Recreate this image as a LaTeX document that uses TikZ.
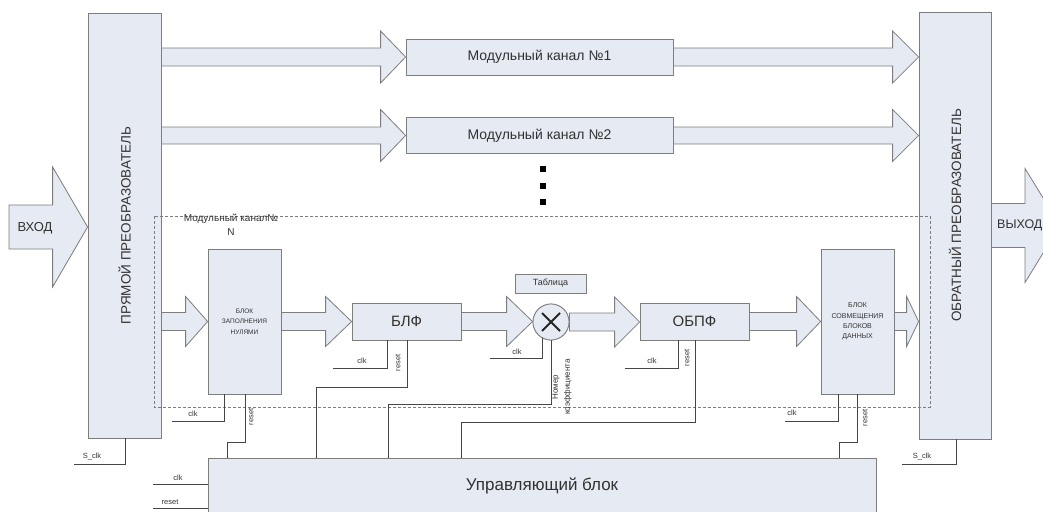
\documentclass[tikz,border=0pt]{standalone}
\usepackage{fontspec}
\setmainfont{Liberation Sans}
\usetikzlibrary{calc}
\definecolor{boxfill}{RGB}{230,234,243}
\definecolor{boxline}{RGB}{125,125,125}
\definecolor{wirec}{RGB}{70,70,70}
\definecolor{txt}{RGB}{50,50,50}
% from, to, head length, body half height, head half height
\newcommand\fatarrow[5]{%
  \draw[fat] let \p1=(#1), \p2=(#2) in
   (\x1,\y1+#4pt) -- (\x2-#3pt,\y1+#4pt) -- (\x2-#3pt,\y1+#5pt) -- (\x2,\y1)
   -- (\x2-#3pt,\y1-#5pt) -- (\x2-#3pt,\y1-#4pt) -- (\x1,\y1-#4pt) -- cycle;}
\begin{document}
\begin{tikzpicture}[x=1pt,y=-1pt,
  blk/.style={draw=boxline,fill=boxfill,line width=0.8pt,inner sep=0pt,text=txt,align=center},
  fat/.style={draw=boxline,fill=boxfill,line width=0.8pt,line join=miter},
  wirel/.style={draw=wirec,line width=0.6pt},
  dashbox/.style={draw=boxline,line width=0.7pt,dash pattern=on 3pt off 2pt},
  lbl/.style={text=txt,font=\fontsize{7.5}{8.5}\selectfont,inner sep=0.5pt},
  big/.style={text=txt,font=\fontsize{13.5}{16}\selectfont}]
\useasboundingbox (0,0) rectangle (1043,511);
\clip (0,0) rectangle (1043,511);

% main blocks
\node[blk,minimum width=73pt,minimum height=425pt] (pre) at (124.5,225.5) {};
\node[blk,minimum width=72pt,minimum height=427pt] (post) at (955,225.5) {};
\node[blk,minimum width=267pt,minimum height=36pt,font=\fontsize{14}{16}\selectfont] (ch1) at (539.5,57) {Модульный канал №1};
\node[blk,minimum width=267pt,minimum height=36pt,font=\fontsize{14}{16}\selectfont] (ch2) at (539.5,135.5) {Модульный канал №2};
\node[blk,minimum width=73pt,minimum height=145pt,font=\fontsize{6.5}{10.5}\selectfont] (blk1) at (244.5,321.5) {БЛОК\\ЗАПОЛНЕНИЯ\\НУЛЯМИ};
\node[blk,minimum width=109pt,minimum height=37pt,font=\fontsize{15}{18}\selectfont] (blf) at (406.5,321.5) {БЛФ};
\node[blk,circle,minimum size=36pt] (mul) at (551,322) {};
\node[blk,minimum width=71pt,minimum height=19pt,font=\fontsize{9}{10}\selectfont] (tab) at (550.5,283.5) {Таблица};
\node[blk,minimum width=109pt,minimum height=37pt,font=\fontsize{15}{18}\selectfont] (obpf) at (694.5,321.5) {ОБПФ};
\node[blk,minimum width=73pt,minimum height=145pt,font=\fontsize{7}{10.3}\selectfont] (blk3) at (857.5,321.5) {БЛОК\\СОВМЕЩЕНИЯ\\БЛОКОВ\\ДАННЫХ};
\node[blk,minimum width=668pt,minimum height=56pt,font=\fontsize{17}{20}\selectfont] (ctrl) at (542,486) {Управляющий блок};

% fat arrows
\coordinate (inpt) at (9,227);
\coordinate (outpt) at (1060,225.5);
\fatarrow{inpt}{pre.west}{35}{22}{60}
\fatarrow{post.east}{outpt}{35}{22}{57}
\fatarrow{pre.east |- ch1.west}{ch1.west}{25}{9}{26}
\fatarrow{ch1.east}{post.west |- ch1.east}{26}{9}{26}
\fatarrow{pre.east |- ch2.west}{ch2.west}{25}{8.5}{26}
\fatarrow{ch2.east}{post.west |- ch2.east}{26}{8.5}{26}
\fatarrow{pre.east |- blk1.west}{blk1.west}{22}{9}{25}
\fatarrow{blk1.east}{blf.west}{26}{9}{25}
\fatarrow{blf.east}{mul.west}{26}{9}{25}
\fatarrow{mul.east}{obpf.west}{25}{9}{25}
\fatarrow{obpf.east}{blk3.west}{24}{9}{25}
\fatarrow{blk3.east}{post.west |- blk3.east}{12}{9}{25}

% multiplier drawn again on top of the arrows
\node[blk,circle,minimum size=36pt] at (mul) {};
\draw[line width=2pt,draw=black!85] ($(mul.center)+(-9,-9)$) -- ($(mul.center)+(9,9)$)
  ($(mul.center)+(-9,9)$) -- ($(mul.center)+(9,-9)$);

% rotated texts and I/O labels
\node[big,rotate=90] at (pre.center) {ПРЯМОЙ ПРЕОБРАЗОВАТЕЛЬ};
\node[big,rotate=90] at ($(post.center)+(0,-10)$) {ОБРАТНЫЙ ПРЕОБРАЗОВАТЕЛЬ};
\node[text=txt,font=\fontsize{13}{15}\selectfont] at (35,228) {ВХОД};
\node[text=txt,font=\fontsize{12.5}{15}\selectfont,anchor=west,inner sep=0pt] at (997,225.5) {ВЫХОД};

% dots
\foreach \yy in {169,185.5,202} \fill[black] (540,\yy-3) rectangle (546,\yy+3);

% dashed module box
\coordinate (dTL) at (154,216);
\coordinate (dBR) at (930,407);
\draw[dashbox] (dTL) rectangle (dBR);
\node[text=txt,font=\fontsize{10}{14}\selectfont,align=center,inner sep=0pt] (mlab) at (231,225) {Модульный канал№\\N};

% wires
\coordinate (k1) at (172,421);
\coordinate (r1) at (227,442);
\coordinate (k2) at (333,368);
\coordinate (r2) at (316,387);
\coordinate (k3) at (490,358);
\coordinate (r3) at (388,404);
\coordinate (k4) at (625,368);
\coordinate (r4) at (461,422);
\coordinate (k5) at (785,421);
\coordinate (r5) at (839,442);
\coordinate (s1) at (74,464);
\coordinate (s2) at (902,464);
\coordinate (k6) at (153,484);
\coordinate (k7) at (153,508);

\draw[wirel] ($(blk1.south)+(-20.5,0)$) |- (k1);
\draw[wirel] ($(blk1.south)+(0.5,0)$) |- (r1) -- (r1 |- ctrl.north);
\draw[wirel] ($(blf.south)+(-19.5,0)$) |- (k2);
\draw[wirel] ($(blf.south)+(0.5,0)$) |- (r2) -- (r2 |- ctrl.north);
\draw[wirel] (mul.240) |- (k3);
\draw[wirel] (mul.south) |- (r3) -- (r3 |- ctrl.north);
\draw[wirel] ($(obpf.south)+(-16.5,0)$) |- (k4);
\draw[wirel] ($(obpf.south)+(1,0)$) |- (r4) -- (r4 |- ctrl.north);
\draw[wirel] ($(blk3.south)+(-19.5,0)$) |- (k5);
\draw[wirel] ($(blk3.south)+(-0.5,0)$) |- (r5) -- (r5 |- ctrl.north);
\draw[wirel] ($(pre.south)+(1,0)$) |- (s1);
\draw[wirel] ($(post.south)+(1,0)$) |- (s2);
\draw[wirel] (k6) -- (ctrl.west |- k6);
\draw[wirel] (k7) -- (ctrl.west |- k7);

% wire labels
\node[lbl] at (193,414) {clk};
\node[lbl,rotate=90] at (251,417) {reset};
\node[lbl] at (362,361) {clk};
\node[lbl,rotate=90] at (398,363) {reset};
\node[lbl] at (517,352) {clk};
\node[lbl,rotate=90,align=center,font=\fontsize{8}{12}\selectfont] at (562,387) {Номер\\коэффициента};
\node[lbl] at (652,361) {clk};
\node[lbl,rotate=90] at (687,358) {reset};
\node[lbl] at (792,413) {clk};
\node[lbl,rotate=90] at (865,418) {reset};
\node[lbl] at (92,457) {S\_clk};
\node[lbl] at (922,457) {S\_clk};
\node[lbl] at (178,478) {clk};
\node[lbl] at (170,502) {reset};
\end{tikzpicture}
\end{document}
